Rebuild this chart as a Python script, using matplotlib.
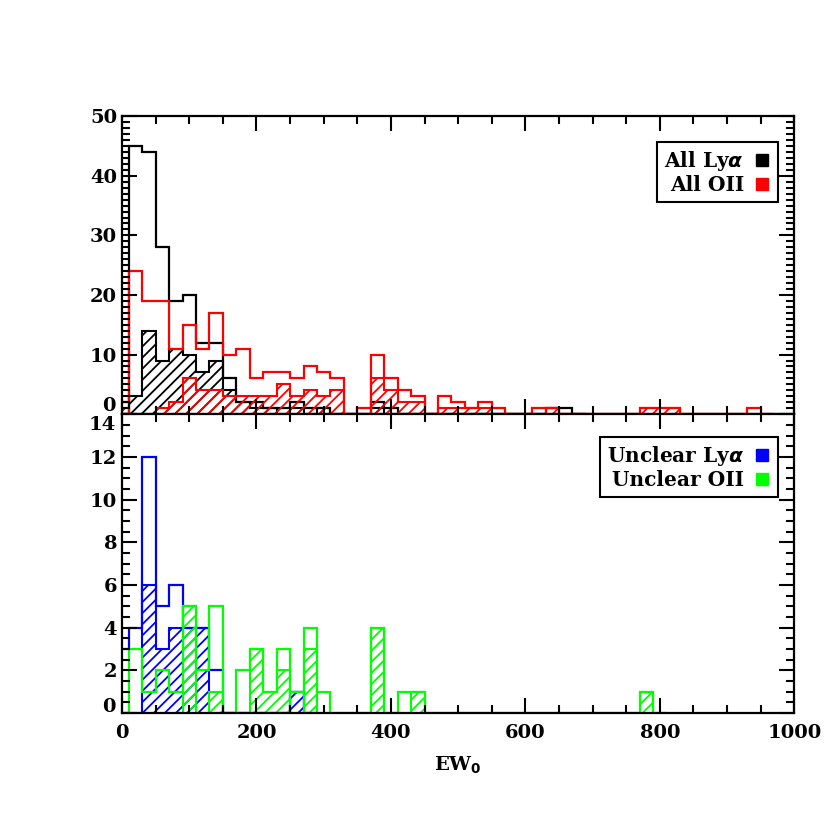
import numpy as np
import matplotlib
matplotlib.use('Agg')
import matplotlib.pyplot as plt
import matplotlib.transforms as mtransforms
from matplotlib.lines import Line2D
from matplotlib.ticker import MultipleLocator

plt.rcParams['font.family'] = ['DejaVu Serif']
plt.rcParams['font.weight'] = 'bold'
plt.rcParams['hatch.linewidth'] = 1.3

# bins are 20 wide, first bin is [-10, 10]
bin_width = 20
bin_start = -10

# top panel: all candidates (open) and secure subset (hatched)
all_lya = [0, 45, 44, 28, 19, 20, 12, 12, 6, 2, 2, 1, 1, 2, 1, 1, 0, 0, 0, 2,
           1, 0, 0, 0, 0, 0, 0, 0, 0, 0, 0, 0, 1, 1, 0]
lya_hatched = [0, 3, 14, 9, 11, 10, 7, 9, 4, 2, 1, 1, 0, 1, 0, 1, 0, 0, 0, 1,
               0, 0, 0, 0, 0, 0, 0, 0, 0, 0, 0, 0, 0, 0, 0]
all_oii = [2, 24, 19, 19, 11, 15, 11, 17, 10, 11, 6, 7, 7, 6, 8, 7, 6, 0, 1, 10,
           6, 4, 3, 0, 3, 2, 1, 2, 1, 0, 0, 1, 1, 0, 0, 0, 0, 0, 0, 1,
           1, 1, 0, 0, 0, 0, 0, 1, 0]
oii_hatched = [1, 0, 0, 1, 2, 6, 4, 4, 3, 3, 3, 3, 5, 3, 4, 3, 4, 0, 0, 6,
               4, 2, 2, 0, 1, 1, 1, 1, 0, 0, 0, 0, 1, 0, 0, 0, 0, 0, 0, 1,
               1, 1, 0, 0, 0, 0, 0, 0, 0]

# bottom panel: unclear candidates
unc_lya = [3, 4, 12, 5, 6, 4, 4, 2, 0, 0, 0, 0, 0, 1, 0]
unc_lya_hatched = [0, 0, 6, 3, 4, 4, 4, 0, 0, 0, 0, 0, 0, 1, 0]
unc_oii = [0, 3, 1, 2, 1, 5, 2, 5, 0, 2, 3, 1, 3, 1, 4, 1, 0, 0, 0, 4,
           0, 1, 1, 0, 0, 0, 0, 0, 0, 0, 0, 0, 0, 0, 0, 0, 0, 0, 0, 1, 0]
unc_oii_hatched = [0, 0, 0, 0, 0, 5, 0, 1, 0, 0, 3, 1, 2, 0, 3, 0, 0, 0, 0, 4,
                   0, 0, 1, 0, 0, 0, 0, 0, 0, 0, 0, 0, 0, 0, 0, 0, 0, 0, 0, 1, 0]

top_yticks = [0, 10, 20, 30, 40, 50]
bot_yticks = [0, 2, 4, 6, 8, 10, 12, 14]
xticks = [0, 200, 400, 600, 800, 1000]


def edges_for(counts):
    return bin_start + bin_width * np.arange(len(counts) + 1)


def draw_hist(ax, open_counts, hatched_counts, color):
    ax.stairs(hatched_counts, edges_for(hatched_counts), fill=True,
              facecolor='none', edgecolor=color, hatch='///', linewidth=1.5)
    ax.stairs(open_counts, edges_for(open_counts), color=color, linewidth=1.6)


fig = plt.figure(figsize=(8.3, 8.3), dpi=100)
ax1 = fig.add_axes([0.147, 0.501, 0.810, 0.359])
ax2 = fig.add_axes([0.147, 0.141, 0.810, 0.360], sharex=ax1)

draw_hist(ax1, all_lya, lya_hatched, 'black')
draw_hist(ax1, all_oii, oii_hatched, 'red')
draw_hist(ax2, unc_lya, unc_lya_hatched, 'blue')
draw_hist(ax2, unc_oii, unc_oii_hatched, '#00ff00')

ax1.set_xlim(0, 1000)
ax1.set_ylim(0, 50)
ax2.set_ylim(0, 14)

ax1.yaxis.set_minor_locator(MultipleLocator(1))
ax2.yaxis.set_minor_locator(MultipleLocator(0.5))
ax2.xaxis.set_minor_locator(MultipleLocator(50))
ax2.set_xticks(xticks)
ax2.set_xticklabels([str(t) for t in xticks])

# end labels are nudged inside the panel, as in the original
ax1.set_yticks(top_yticks)
ax1.set_yticklabels([''] + [str(t) for t in top_yticks[1:]])
ax2.set_yticks(bot_yticks)
ax2.set_yticklabels([''] + [str(t) for t in bot_yticks[1:-1]] + [''])

for ax in (ax1, ax2):
    ax.tick_params(which='both', direction='in', top=True, right=True,
                   width=1.5, labelsize=14)
    ax.tick_params(which='major', length=11)
    ax.tick_params(which='minor', length=6)
    ax.tick_params(axis='x', pad=8)
    for sp in ax.spines.values():
        sp.set_linewidth(1.6)
ax1.tick_params(labelbottom=False)

trans1 = mtransforms.blended_transform_factory(ax1.transAxes, ax1.transData)
trans2 = mtransforms.blended_transform_factory(ax2.transAxes, ax2.transData)
lab_x = -0.0095
ax1.text(lab_x, 1.4, '0', transform=trans1, ha='right', va='center', fontsize=14)
ax2.text(lab_x, 0.3, '0', transform=trans2, ha='right', va='center', fontsize=14)
ax2.text(lab_x, 13.5, '14', transform=trans2, ha='right', va='center', fontsize=14)

ax2.set_xlabel('EW$_\\mathbf{0}$', fontsize=14, fontweight='bold', labelpad=9)

handles1 = [Line2D([], [], marker='s', color='black', linestyle='none', markersize=8),
            Line2D([], [], marker='s', color='red', linestyle='none', markersize=8)]
leg1 = ax1.legend(handles1, ['All Ly$\\alpha$', 'All OII'], loc='upper right',
                  bbox_to_anchor=(0.975, 0.913), borderaxespad=0, markerfirst=False,
                  fancybox=False, edgecolor='black', framealpha=1, fontsize=14.5,
                  handlelength=0.8, handletextpad=0.5, labelspacing=0.1,
                  borderpad=0.35)
leg1.get_frame().set_linewidth(1.5)

handles2 = [Line2D([], [], marker='s', color='blue', linestyle='none', markersize=8),
            Line2D([], [], marker='s', color='#00ff00', linestyle='none', markersize=8)]
leg2 = ax2.legend(handles2, ['Unclear Ly$\\alpha$', 'Unclear OII'], loc='upper right',
                  bbox_to_anchor=(0.975, 0.923), borderaxespad=0, markerfirst=False,
                  fancybox=False, edgecolor='black', framealpha=1, fontsize=14.5,
                  handlelength=0.8, handletextpad=0.5, labelspacing=0.1,
                  borderpad=0.35)
leg2.get_frame().set_linewidth(1.5)

plt.savefig('out.png', dpi=100)
